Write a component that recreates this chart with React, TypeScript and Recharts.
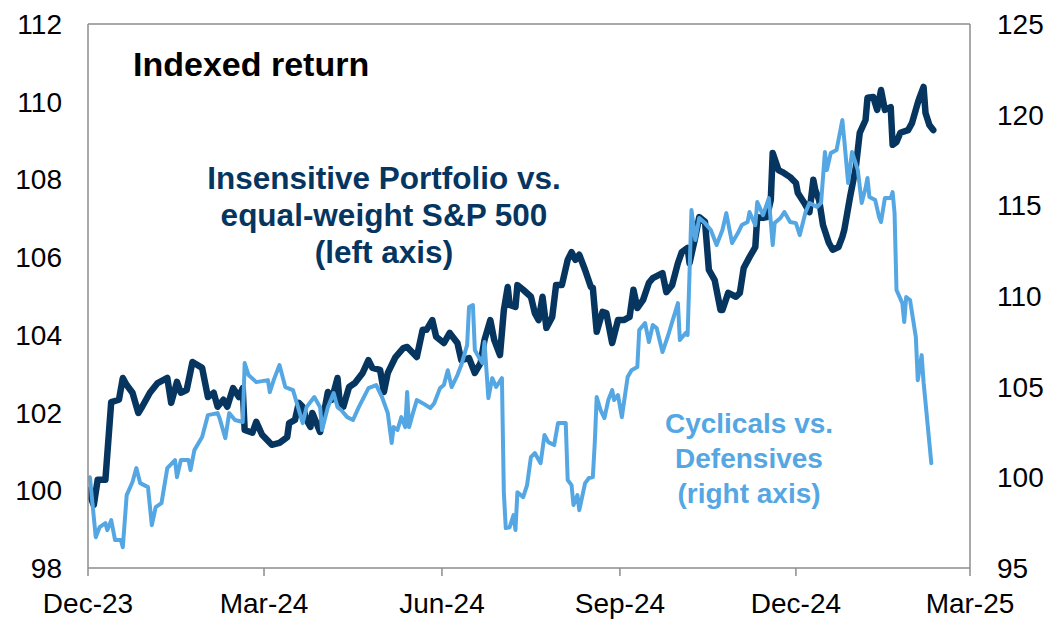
import React from "react";
import { LineChart, Line, XAxis, YAxis, ReferenceLine } from "recharts";

// x values are days since 1 Dec 2023
const tickDays = [0, 91, 183, 275, 366, 456];
const tickLabels = ["Dec-23", "Mar-24", "Jun-24", "Sep-24", "Dec-24", "Mar-25"];
const leftTicks = [98, 100, 102, 104, 106, 108, 110, 112];
const rightTicks = [95, 100, 105, 110, 115, 120, 125];

// Insensitive Portfolio vs. equal-weight S&P 500 (left axis)
const insensitive: [number, number][] = [
  [0,100.0],[3,99.62],[5,100.27],[9,100.27],[12,102.27],[16,102.33],[18,102.89],[20,102.71],[23,102.51],[26,101.99],[28,102.15],[32,102.51],[36,102.76],[41,102.89],[43,102.25],[46,102.79],[48,102.51],[51,102.58],[54,103.30],[59,103.15],[62,102.40],[65,102.51],[67,102.15],[70,102.33],[72,102.15],[75,102.63],[78,102.40],[80,102.63],[81,101.55],[85,101.48],[87,101.76],[90,101.43],[95,101.17],[99,101.22],[103,101.37],[104,101.73],[107,101.81],[109,102.25],[111,102.15],[113,101.81],[115,101.63],[116,101.99],[120,101.50],[122,101.99],[124,102.53],[126,102.33],[129,102.89],[130,102.33],[132,102.15],[135,102.66],[138,102.76],[142,103.02],[145,103.35],[147,103.15],[151,103.10],[153,102.53],[155,103.02],[159,103.43],[163,103.66],[165,103.69],[170,103.43],[173,104.13],[175,104.13],[178,104.38],[180,103.95],[184,103.79],[187,104.05],[191,103.79],[193,103.35],[197,103.4],[200,103.02],[203,103.28],[205,103.87],[208,104.38],[210,103.87],[213,103.48],[215,104.64],[217,105.23],[218,104.77],[221,104.72],[222,105.28],[225,105.16],[229,104.98],[231,104.56],[233,104.38],[235,104.98],[237,104.18],[240,104.46],[242,105.28],[245,105.28],[248,105.93],[250,106.13],[252,105.93],[254,106.06],[257,105.67],[260,105.23],[261,105.21],[263,104.08],[266,104.59],[268,104.56],[271,103.79],[274,104.38],[277,104.38],[280,104.46],[282,105.16],[284,104.69],[287,104.90],[290,105.34],[292,105.46],[297,105.59],[299,105.10],[302,105.28],[305,105.85],[307,106.13],[310,106.24],[311,105.85],[314,106.52],[316,107.03],[319,106.91],[321,105.67],[324,105.41],[327,104.64],[328,104.64],[331,105.08],[335,104.98],[337,105.08],[339,105.72],[342,106.00],[345,106.26],[346,107.03],[349,107.01],[351,107.03],[353,107.47],[354,108.68],[357,108.24],[359,108.19],[363,108.06],[366,107.91],[367,107.65],[370,107.42],[373,107.16],[375,107.99],[376,107.73],[378,107.47],[380,106.83],[383,106.37],[385,106.19],[388,106.26],[390,106.52],[391,106.70],[394,107.55],[397,108.32],[399,109.20],[402,109.53],[403,110.10],[406,110.12],[408,109.79],[410,110.30],[412,109.79],[415,109.86],[416,108.89],[418,108.96],[420,109.20],[424,109.27],[426,109.45],[429,109.97],[430,110.12],[432,110.38],[433,109.71],[435,109.40],[437,109.27]
];

// Cyclicals vs. Defensives (right axis)
const cyclicals: [number, number][] = [
  [1,100.0],[4,96.70],[6,97.25],[9,97.47],[10,97.09],[12,97.64],[14,96.54],[17,96.54],[18,96.15],[20,99.02],[23,99.74],[25,100.51],[27,99.68],[31,99.46],[33,97.36],[35,98.36],[38,98.58],[41,100.51],[45,100.95],[46,100.01],[48,100.95],[52,100.95],[53,100.40],[55,101.50],[59,102.22],[62,103.43],[67,103.54],[68,103.27],[71,102.16],[73,103.54],[76,103.16],[80,103.05],[81,106.30],[83,105.64],[87,105.25],[93,105.36],[94,104.70],[96,105.36],[99,106.19],[102,104.98],[106,104.81],[111,102.99],[113,103.87],[115,104.15],[117,104.43],[120,103.87],[121,102.61],[124,103.87],[127,104.65],[129,103.87],[131,103.70],[134,103.32],[137,103.16],[140,103.87],[145,104.92],[149,105.09],[152,104.43],[155,103.54],[157,101.89],[158,102.77],[160,102.61],[162,103.32],[164,102.77],[165,104.70],[166,102.77],[168,103.54],[170,104.26],[173,104.09],[177,103.82],[179,104.09],[182,104.92],[184,105.09],[186,105.91],[188,104.98],[191,105.64],[193,106.19],[196,107.29],[197,109.39],[199,109.50],[200,107.02],[202,106.63],[204,106.30],[205,107.46],[207,104.37],[209,105.47],[211,104.98],[214,105.47],[215,99.13],[216,97.20],[218,97.25],[220,97.92],[221,97.09],[222,99.18],[225,98.91],[227,99.57],[229,101.12],[231,101.34],[234,100.78],[236,102.33],[238,101.94],[241,101.78],[243,102.99],[247,102.99],[248,99.85],[250,99.57],[251,98.47],[253,99.02],[254,98.19],[257,99.68],[259,99.96],[261,100.01],[262,101.89],[263,104.43],[265,103.71],[267,103.27],[269,104.26],[271,104.81],[272,104.26],[274,104.54],[276,103.32],[279,105.53],[281,105.91],[284,106.08],[285,108.12],[288,108.51],[290,107.46],[292,108.40],[294,108.23],[297,106.91],[300,107.85],[302,108.56],[305,109.61],[306,107.57],[309,107.96],[310,107.85],[312,114.74],[314,113.09],[316,114.30],[319,114.02],[322,113.64],[325,112.81],[328,113.64],[330,114.57],[333,112.92],[336,113.47],[338,113.91],[341,114.08],[342,114.63],[345,113.91],[346,115.18],[349,114.46],[352,115.40],[354,112.81],[355,114.02],[358,114.30],[360,114.63],[363,114.08],[366,114.02],[368,113.36],[371,114.63],[373,115.13],[377,114.91],[379,115.13],[381,117.94],[382,116.95],[384,117.88],[387,118.05],[390,119.70],[391,118.60],[393,116.23],[395,117.94],[398,116.95],[400,115.13],[402,115.95],[403,116.51],[404,115.46],[407,115.29],[409,114.35],[410,114.08],[412,115.40],[415,115.40],[416,115.73],[417,114.57],[418,110.33],[421,109.61],[422,108.56],[423,109.94],[425,109.78],[428,107.73],[429,105.36],[431,106.74],[432,105.25],[436,100.78]
];

const insensitiveData = insensitive.map(([d, v]) => ({ d, v }));
const cyclicalsData = cyclicals.map(([d, v]) => ({ d, v }));

const DARK = "#06365F";
const LIGHT = "#55A7E3";
const GRID = "#8C8C8C";
const FONT = "'Liberation Sans', Arial, sans-serif";

const W = 1052;
const H = 612;

export default function App() {
  const labelFor = (v: number) => {
    const i = tickDays.indexOf(v);
    return i >= 0 ? tickLabels[i] : "";
  };
  return (
    <div style={{ position: "relative", width: W, height: H, fontFamily: FONT }}>
      <LineChart
        width={W}
        height={H}
        margin={{ top: 16, right: 0, bottom: 0, left: 0 }}
        style={{ fontFamily: FONT }}
      >
        <XAxis
          type="number"
          dataKey="d"
          domain={[0, 456]}
          ticks={tickDays}
          tickFormatter={labelFor}
          allowDataOverflow
          height={52}
          axisLine={{ stroke: GRID, strokeWidth: 1.5 }}
          tickLine={{ stroke: GRID, strokeWidth: 1.5 }}
          tickSize={8}
          tickMargin={17}
          tick={{ fill: "#000", fontSize: 28, fontFamily: FONT }}
          interval={0}
        />
        <YAxis
          yAxisId="left"
          orientation="left"
          domain={[98, 112]}
          ticks={leftTicks}
          width={80}
          axisLine={{ stroke: GRID, strokeWidth: 1.5 }}
          tickLine={false}
          tickSize={0}
          tickMargin={26}
          tick={{ fill: "#000", fontSize: 28, fontFamily: FONT }}
          interval={0}
        />
        <YAxis
          yAxisId="right"
          orientation="right"
          domain={[95, 125]}
          ticks={rightTicks}
          width={90}
          axisLine={{ stroke: GRID, strokeWidth: 1.5 }}
          tickLine={false}
          tickSize={0}
          tickMargin={27}
          tick={{ fill: "#000", fontSize: 28, fontFamily: FONT }}
          interval={0}
        />
        <ReferenceLine yAxisId="left" y={112} stroke={GRID} strokeWidth={1.5} />
        <Line
          yAxisId="left"
          data={insensitiveData}
          dataKey="v"
          type="linear"
          stroke={DARK}
          strokeWidth={6.5}
          strokeLinejoin="round"
          strokeLinecap="round"
          dot={false}
          activeDot={false}
          isAnimationActive={false}
        />
        <Line
          yAxisId="right"
          data={cyclicalsData}
          dataKey="v"
          type="linear"
          stroke={LIGHT}
          strokeWidth={4}
          strokeLinejoin="round"
          strokeLinecap="round"
          dot={false}
          activeDot={false}
          isAnimationActive={false}
        />
      </LineChart>
      <svg
        width={W}
        height={H}
        style={{ position: "absolute", left: 0, top: 0, pointerEvents: "none" }}
      >
        <text x={125} y={68} fontSize={34} fontWeight="bold" fill="#000" fontFamily={FONT}>
          Indexed return
        </text>
        <g fontSize={31.5} fontWeight="bold" fill={DARK} fontFamily={FONT} textAnchor="middle">
          <text x={376} y={181}>Insensitive Portfolio vs.</text>
          <text x={376} y={218}>equal-weight S&amp;P 500</text>
          <text x={376} y={255}>(left axis)</text>
        </g>
        <g fontSize={28} fontWeight="bold" fill={LIGHT} fontFamily={FONT} textAnchor="middle">
          <text x={741} y={425}>Cyclicals vs.</text>
          <text x={741} y={460}>Defensives</text>
          <text x={741} y={495}>(right axis)</text>
        </g>
      </svg>
    </div>
  );
}
